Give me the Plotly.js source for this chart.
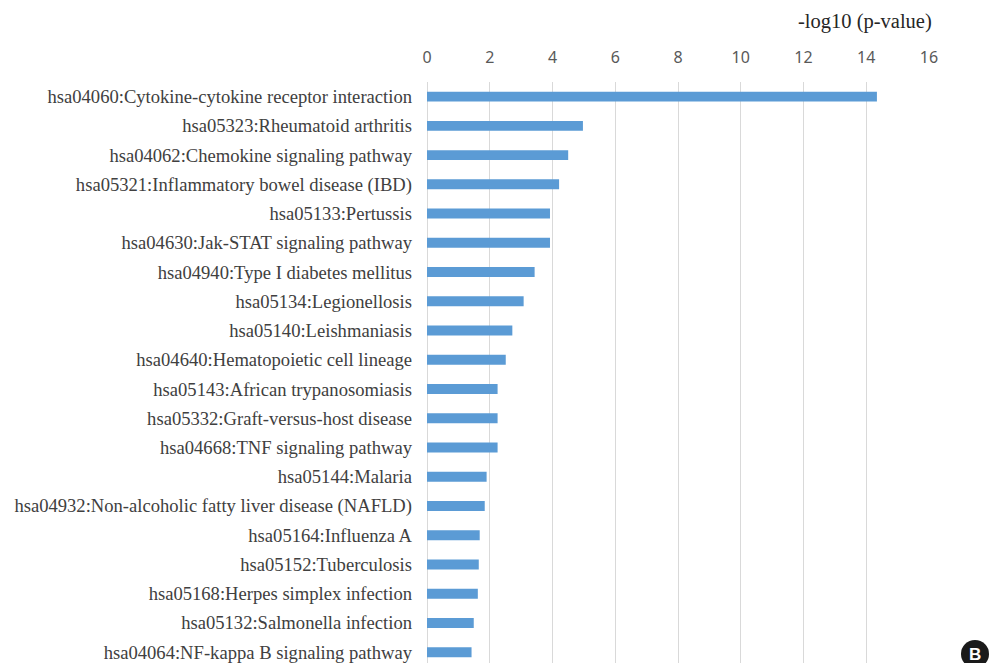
<!DOCTYPE html>
<html>
<head>
<meta charset="utf-8">
<script src="https://cdn.plot.ly/plotly-3.0.1.min.js"></script>
<style>html,body{margin:0;padding:0;background:#fff;}#chart{width:989px;height:663px;}</style>
</head>
<body>
<div id="chart"></div>
<script>
const pathways = [
  "hsa04060:Cytokine-cytokine receptor interaction",
  "hsa05323:Rheumatoid arthritis",
  "hsa04062:Chemokine signaling pathway",
  "hsa05321:Inflammatory bowel disease (IBD)",
  "hsa05133:Pertussis",
  "hsa04630:Jak-STAT signaling pathway",
  "hsa04940:Type I diabetes mellitus",
  "hsa05134:Legionellosis",
  "hsa05140:Leishmaniasis",
  "hsa04640:Hematopoietic cell lineage",
  "hsa05143:African trypanosomiasis",
  "hsa05332:Graft-versus-host disease",
  "hsa04668:TNF signaling pathway",
  "hsa05144:Malaria",
  "hsa04932:Non-alcoholic fatty liver disease (NAFLD)",
  "hsa05164:Influenza A",
  "hsa05152:Tuberculosis",
  "hsa05168:Herpes simplex infection",
  "hsa05132:Salmonella infection",
  "hsa04064:NF-kappa B signaling pathway"
];
const negLog10P = [14.34, 4.97, 4.50, 4.21, 3.92, 3.92, 3.43, 3.08, 2.72, 2.51,
                   2.25, 2.25, 2.25, 1.90, 1.84, 1.68, 1.65, 1.62, 1.49, 1.42];
const xTicks = [0, 2, 4, 6, 8, 10, 12, 14, 16];

const trace = {
  type: "bar",
  orientation: "h",
  x: negLog10P,
  y: pathways,
  marker: {color: "#5B9BD5"},
  hoverinfo: "x+y"
};

const layout = {
  width: 989, height: 663,
  margin: {l: 427, r: 60, t: 82, b: 0, pad: 0},
  paper_bgcolor: "#fff", plot_bgcolor: "#fff",
  showlegend: false,
  bargap: 0.66,
  xaxis: {
    side: "top",
    range: [0, 16],
    tickvals: xTicks,
    ticktext: xTicks.map(String),
    showgrid: true, gridcolor: "#d9d9d9", gridwidth: 1,
    zeroline: true, zerolinecolor: "#d9d9d9", zerolinewidth: 1,
    showline: false,
    ticks: "",
    ticklabelstandoff: 15,
    tickfont: {family: "Noto Sans, sans-serif", size: 16, color: "#595959"},
    fixedrange: true
  },
  yaxis: {
    type: "category",
    categoryorder: "array",
    categoryarray: pathways,
    range: [19.37, -0.5],
    showgrid: false, zeroline: false, showline: false,
    ticks: "",
    ticklabelstandoff: 14,
    tickfont: {family: "Liberation Serif, Times New Roman, serif", size: 18.6, color: "#404040"},
    fixedrange: true
  },
  annotations: [
    {text: "-log10 (p-value)", xref: "paper", yref: "paper", x: 1, y: 1,
     xanchor: "right", yanchor: "bottom", xshift: 5, yshift: 47, showarrow: false,
     font: {family: "Liberation Serif, Times New Roman, serif", size: 20.5, color: "#262626"}},
    {text: "<b>B</b>", xref: "paper", yref: "paper", x: 1, y: 0,
     xanchor: "center", yanchor: "middle", xshift: 46, yshift: 9, showarrow: false,
     font: {family: "Liberation Sans, Arial, sans-serif", size: 17, color: "#fff"}}
  ],
  shapes: [
    {type: "circle", xref: "paper", yref: "paper",
     xsizemode: "pixel", ysizemode: "pixel", xanchor: 1, yanchor: 0,
     x0: 32, x1: 60, y0: -5, y1: 23,
     fillcolor: "#1a1a1a", line: {width: 0}}
  ]
};

Plotly.newPlot("chart", [trace], layout, {displayModeBar: false, staticPlot: true});
</script>
</body>
</html>
